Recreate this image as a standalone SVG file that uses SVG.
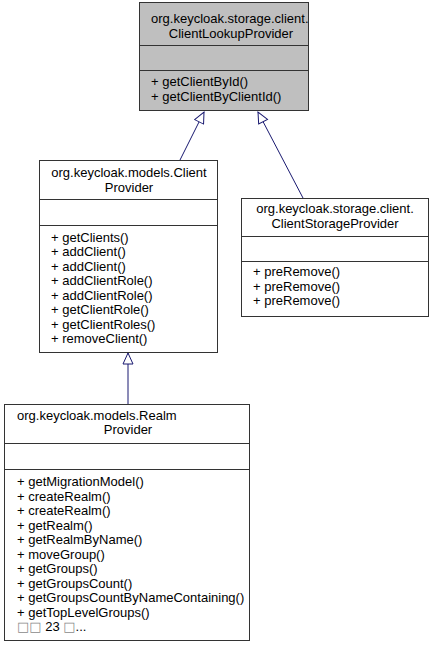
<svg xmlns="http://www.w3.org/2000/svg" width="431" height="647" viewBox="0 0 431 647">
<style>
text{font-family:"Liberation Sans",Arial,sans-serif;font-size:13px;fill:#000}
.c{text-anchor:middle}
.box{fill:#fff;stroke:#333;stroke-width:1}
.gray{fill:#bfbfbf}
.sep{stroke:#333;stroke-width:1}
.edge{stroke:#191970;stroke-width:1;fill:none;marker-end:url(#hollow)}
.tofu{font-family:"DejaVu Sans",sans-serif;font-size:13px;fill:#8a8a8a}
</style>
<defs>
<marker id="hollow" markerUnits="userSpaceOnUse" markerWidth="13" markerHeight="12" refX="12" refY="6" orient="auto" viewBox="0 0 13 12">
<path d="M1,1 L12,6 L1,11 Z" fill="#fff" stroke="#191970" stroke-width="1"/>
</marker>
</defs>
<rect width="431" height="647" fill="#fff"/>
<g id="connectors">
<line class="edge" x1="180" y1="160" x2="204" y2="112"/>
<line class="edge" x1="303" y1="198" x2="258" y2="112"/>
<line class="edge" x1="128" y1="404" x2="128" y2="353"/>
</g>
<g id="ClientLookupProvider">
<rect class="box gray" x="139.5" y="2.5" width="169" height="108"/>
<line class="sep" x1="139.5" y1="45.5" x2="308.5" y2="45.5"/>
<line class="sep" x1="139.5" y1="70.5" x2="308.5" y2="70.5"/>
<text x="151" y="23">org.keycloak.storage.client.</text>
<text class="c" x="231" y="38">ClientLookupProvider</text>
<text x="151" y="86">+ getClientById()</text>
<text x="151" y="101">+ getClientByClientId()</text>
</g>
<g id="ClientProvider">
<rect class="box" x="39.5" y="160.5" width="178" height="192"/>
<line class="sep" x1="39.5" y1="199.5" x2="217.5" y2="199.5"/>
<line class="sep" x1="39.5" y1="225.5" x2="217.5" y2="225.5"/>
<text class="c" x="129" y="177">org.keycloak.models.Client</text>
<text class="c" x="129" y="192">Provider</text>
<text x="51" y="241.5">+ getClients()</text>
<text x="51" y="256">+ addClient()</text>
<text x="51" y="270.5">+ addClient()</text>
<text x="51" y="285">+ addClientRole()</text>
<text x="51" y="299.5">+ addClientRole()</text>
<text x="51" y="314">+ getClientRole()</text>
<text x="51" y="328.5">+ getClientRoles()</text>
<text x="51" y="343">+ removeClient()</text>
</g>
<g id="ClientStorageProvider">
<rect class="box" x="241.5" y="198.5" width="187" height="118"/>
<line class="sep" x1="241.5" y1="236.5" x2="428.5" y2="236.5"/>
<line class="sep" x1="241.5" y1="261.5" x2="428.5" y2="261.5"/>
<text class="c" x="335" y="213">org.keycloak.storage.client.</text>
<text class="c" x="335" y="228">ClientStorageProvider</text>
<text x="253" y="276">+ preRemove()</text>
<text x="253" y="290.5">+ preRemove()</text>
<text x="253" y="305">+ preRemove()</text>
</g>
<g id="RealmProvider">
<rect class="box" x="4.5" y="404.5" width="245" height="236"/>
<line class="sep" x1="4.5" y1="443.5" x2="249.5" y2="443.5"/>
<line class="sep" x1="4.5" y1="469.5" x2="249.5" y2="469.5"/>
<text x="17" y="420">org.keycloak.models.Realm</text>
<text class="c" x="128" y="434">Provider</text>
<text x="17" y="486">+ getMigrationModel()</text>
<text x="17" y="500.5">+ createRealm()</text>
<text x="17" y="515">+ createRealm()</text>
<text x="17" y="529.5">+ getRealm()</text>
<text x="17" y="544">+ getRealmByName()</text>
<text x="17" y="558.5">+ moveGroup()</text>
<text x="17" y="573">+ getGroups()</text>
<text x="17" y="587.5">+ getGroupsCount()</text>
<text x="17" y="602">+ getGroupsCountByNameContaining()</text>
<text x="17" y="616.5">+ getTopLevelGroups()</text>
<text x="17" y="631"><tspan class="tofu">□□</tspan> 23 <tspan class="tofu">□</tspan>...</text>
</g>
</svg>
